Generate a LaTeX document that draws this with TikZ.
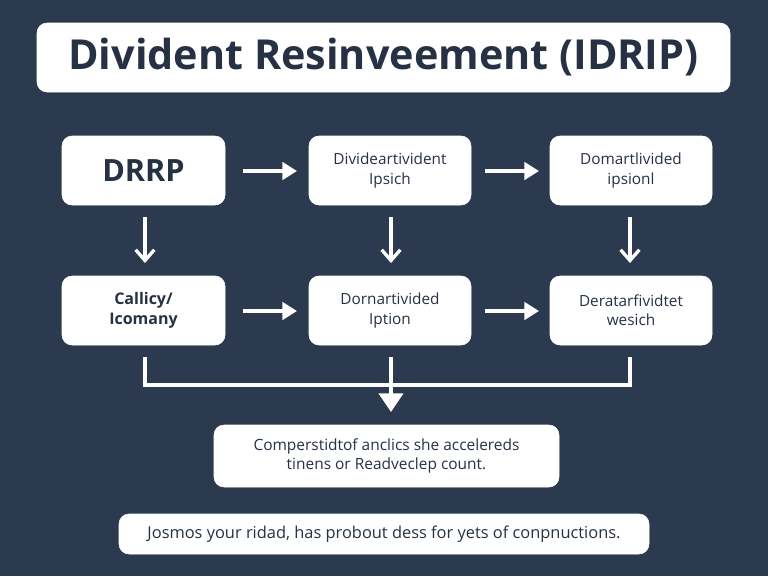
\documentclass[tikz,border=0pt]{standalone}
\usepackage{fontspec}
\setmainfont{Open Sans}
\usetikzlibrary{arrows.meta}
\definecolor{bgnavy}{HTML}{2B3A4E}
\definecolor{txt}{HTML}{263244}
\begin{document}
\begin{tikzpicture}[x=0.75pt,y=-0.75pt,
  box/.style={draw=white,fill=white,rounded corners=7.5pt,text=txt,align=center,inner sep=0pt},
  small/.style={font=\fontsize{11.5}{14.5}\selectfont},
  flow/.style={draw=white,line width=3pt,-{Triangle[length=11pt,width=13pt]}},
  vflow/.style={draw=white,line width=2.5pt,-{Straight Barb[length=8pt,width=14pt,line width=2.5pt]}},
  link/.style={draw=white,line width=3pt}]
\fill[bgnavy] (0,0) rectangle (768,576);
\useasboundingbox (0,0) rectangle (768,576);
% title
\node[box,minimum width=693*0.75pt,minimum height=69*0.75pt,font=\fontsize{31}{36}\selectfont\bfseries] (title) at (383.5,57.5) {Divident Resinveement (IDRIP)};
% row 1
\node[box,minimum width=163*0.75pt,minimum height=69*0.75pt,font=\fontsize{23}{26}\selectfont\bfseries] (a1) at (143.5,170.5) {DRRP};
\node[box,small,minimum width=162*0.75pt,minimum height=69*0.75pt] (a2) at (390,170.5) {Divideartivident\\Ipsich};
\node[box,small,minimum width=162*0.75pt,minimum height=69*0.75pt] (a3) at (631,170.5) {Domartlivided\\ipsionl};
% row 2
\node[box,minimum width=163*0.75pt,minimum height=69*0.75pt,font=\fontsize{12}{15.5}\selectfont\bfseries] (b1) at (143.5,310.5) {Callicy/\\Icomany};
\node[box,small,minimum width=162*0.75pt,minimum height=69*0.75pt] (b2) at (390,310.5) {Dornartivided\\Iption};
\node[box,small,minimum width=162*0.75pt,minimum height=69*0.75pt] (b3) at (631,310.5) {Deratarfividtet\\wesich};
% bottom boxes
\node[box,minimum width=345*0.75pt,minimum height=62*0.75pt,font=\fontsize{11.6}{14.5}\selectfont] (c) at (386.5,456) {Comperstidtof anclics she accelereds\\tinens or Readveclep count.};
\node[box,minimum width=530*0.75pt,minimum height=40*0.75pt,font=\fontsize{12.3}{15}\selectfont] (d) at (384,534) {Josmos your ridad, has probout dess for yets of conpnuctions.};
% horizontal arrows
\coordinate (h1s) at (243,171); \coordinate (h1e) at (297,171);
\coordinate (h2s) at (485,171); \coordinate (h2e) at (539,171);
\coordinate (h3s) at (243,311); \coordinate (h3e) at (297,311);
\coordinate (h4s) at (485,311); \coordinate (h4e) at (539,311);
\draw[flow] (h1s) -- (h1e);
\draw[flow] (h2s) -- (h2e);
\draw[flow] (h3s) -- (h3e);
\draw[flow] (h4s) -- (h4e);
% vertical arrows
\coordinate (v1s) at (145,217); \coordinate (v1e) at (145,263);
\coordinate (v2s) at (391,217); \coordinate (v2e) at (391,263);
\coordinate (v3s) at (630,217); \coordinate (v3e) at (630,263);
\draw[vflow] (v1s) -- (v1e);
\draw[vflow] (v2s) -- (v2e);
\draw[vflow] (v3s) -- (v3e);
% merge
\coordinate (m1) at (145,357); \coordinate (m1b) at (145,385);
\coordinate (m3) at (630,357); \coordinate (m3b) at (630,385);
\coordinate (m2) at (391,357); \coordinate (mt) at (391,412);
\draw[link,line join=miter] (m1) -- (m1b) -- (m3b) -- (m3);
\draw[flow,-{Triangle[length=14pt,width=18pt]}] (m2) -- (mt);
\end{tikzpicture}
\end{document}
